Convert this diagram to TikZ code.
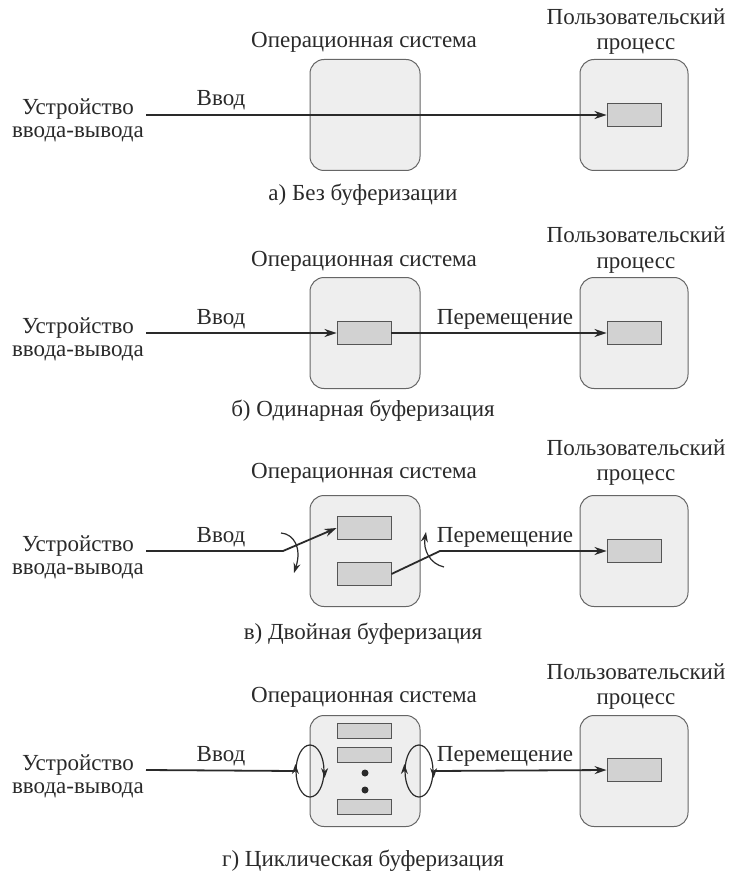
\documentclass[tikz,border=0pt]{standalone}
\usepackage{fontspec}
\setmainfont{Liberation Serif}
\usetikzlibrary{arrows.meta,shapes.geometric}
\definecolor{boxfill}{HTML}{EEEEEE}
\definecolor{boxline}{HTML}{666666}
\definecolor{buffill}{HTML}{D2D2D2}
\definecolor{ink}{HTML}{2A2A2A}
\begin{document}
\begin{tikzpicture}[x=1pt,y=-1pt,
  lbl/.style={inner sep=0pt,anchor=base,text=ink,font=\fontsize{23}{25}\selectfont},
  bigbox/.style={draw=boxline,fill=boxfill,line width=1pt,rounded corners=14pt,minimum width=110pt,minimum height=111pt,inner sep=0pt},
  buf/.style={draw=ink!80,fill=buffill,line width=0.9pt,minimum width=54pt,minimum height=23pt,inner sep=0pt},
  bufs/.style={draw=ink!80,fill=buffill,line width=0.9pt,minimum width=54pt,minimum height=15pt,inner sep=0pt},
  arr/.style={draw=ink,line width=1.8pt,-{Stealth[length=12pt,width=8pt]}},
  ln/.style={draw=ink,line width=1.8pt},
  thinarr/.style={draw=ink,line width=1.2pt,-{Stealth[length=10pt,width=7pt]}},
  ell/.style={draw=ink,line width=1.2pt,ellipse,minimum width=28pt,minimum height=52pt,inner sep=0pt}
]
\useasboundingbox (0,0) rectangle (729,885);

% ---------- panel a ----------
\node[lbl] (upA1) at (636,25) {Пользовательский};
\node[lbl] (upA2) at (636,50) {процесс};
\node[lbl] (osLA) at (364,48) {Операционная система};
\node[lbl] (devA1) at (78,115) {Устройство};
\node[lbl] (devA2) at (78,138) {ввода-вывода};
\node[bigbox] (osA) at (365,115) {};
\node[bigbox,minimum width=108pt] (ubA) at (634,115) {};
\node[buf] (ubufA) at (634,115) {};
\coordinate (inA) at (146,115);
\draw[arr] (inA) -- (ubufA.west);
\node[lbl] (vvA) at (221,106) {Ввод};
\node[lbl] (capA) at (363,201) {а) Без буферизации};

% ---------- panel b ----------
\node[lbl] (upB1) at (636,243) {Пользовательский};
\node[lbl] (upB2) at (636,268) {процесс};
\node[lbl] (osLB) at (364,266) {Операционная система};
\node[lbl] (devB1) at (78,333) {Устройство};
\node[lbl] (devB2) at (78,356) {ввода-вывода};
\node[bigbox] (osB) at (365,333) {};
\node[bigbox,minimum width=108pt] (ubB) at (634,333) {};
\node[buf] (bufB) at (364,333) {};
\node[buf] (ubufB) at (634,333) {};
\coordinate (inB) at (146,333);
\draw[arr] (inB) -- (bufB.west);
\draw[arr] (bufB.east) -- (ubufB.west);
\node[lbl] (vvB) at (221,324) {Ввод};
\node[lbl] (mvB) at (505,324) {Перемещение};
\node[lbl] (capB) at (363,416) {б) Одинарная буферизация};

% ---------- panel c ----------
\node[lbl] (upC1) at (636,455) {Пользовательский};
\node[lbl] (upC2) at (636,480) {процесс};
\node[lbl] (osLC) at (364,478) {Операционная система};
\node[lbl] (devC1) at (78,551) {Устройство};
\node[lbl] (devC2) at (78,574) {ввода-вывода};
\node[bigbox] (osC) at (365,551) {};
\node[bigbox,minimum width=108pt] (ubC) at (634,551) {};
\node[buf] (bufC1) at (364,528) {};
\node[buf] (bufC2) at (364,574) {};
\node[buf] (ubufC) at (634,551) {};
\coordinate (inC) at (146,551);
\coordinate (bendC1) at (283,551);
\coordinate (bendC2) at (440,551);
\draw[arr] (inC) -- (bendC1) -- (bufC1.west);
\draw[arr] (bufC2.east) -- (bendC2) -- (ubufC.west);
\coordinate (swL1) at (281,533);
\coordinate (swL2) at (294,573);
\draw[thinarr] (swL1) .. controls (294,534) and (302,548) .. (swL2);
\coordinate (swR1) at (444,567);
\coordinate (swR2) at (426,532);
\draw[thinarr] (swR1) .. controls (430,564) and (423,550) .. (swR2);
\node[lbl] (vvC) at (221,542) {Ввод};
\node[lbl] (mvC) at (505,542) {Перемещение};
\node[lbl] (capC) at (363,639) {в) Двойная буферизация};

% ---------- panel d ----------
\node[lbl] (upD1) at (636,679) {Пользовательский};
\node[lbl] (upD2) at (636,704) {процесс};
\node[lbl] (osLD) at (364,702) {Операционная система};
\node[lbl] (devD1) at (78,770) {Устройство};
\node[lbl] (devD2) at (78,793) {ввода-вывода};
\node[bigbox] (osD) at (365,771) {};
\node[bigbox,minimum width=108pt] (ubD) at (634,771) {};
\node[bufs] (bufD1) at (364,731) {};
\node[bufs] (bufD2) at (364,755) {};
\node[bufs] (bufD3) at (364,807) {};
\fill[ink] (365,773) circle (3.5pt);
\fill[ink] (365,790) circle (3.5pt);
\node[buf] (ubufD) at (634,770) {};
\node[ell] (elL) at (310,771) {};
\node[ell] (elR) at (419,771) {};
\coordinate (inD) at (146,770);
\draw[ln] (inD) -- (elL.west);
\draw[arr] (elR.east) -- (ubufD.west);
\draw[thinarr] (elL.west) -- ++(0,-7);
\draw[thinarr] (elL.east) -- ++(0,7);
\draw[thinarr] (elR.west) -- ++(0,-7);
\draw[thinarr] (elR.east) -- ++(0,7);
\node[lbl] (vvD) at (221,761) {Ввод};
\node[lbl] (mvD) at (505,761) {Перемещение};
\node[lbl] (capD) at (363,866) {г) Циклическая буферизация};
\end{tikzpicture}
\end{document}
